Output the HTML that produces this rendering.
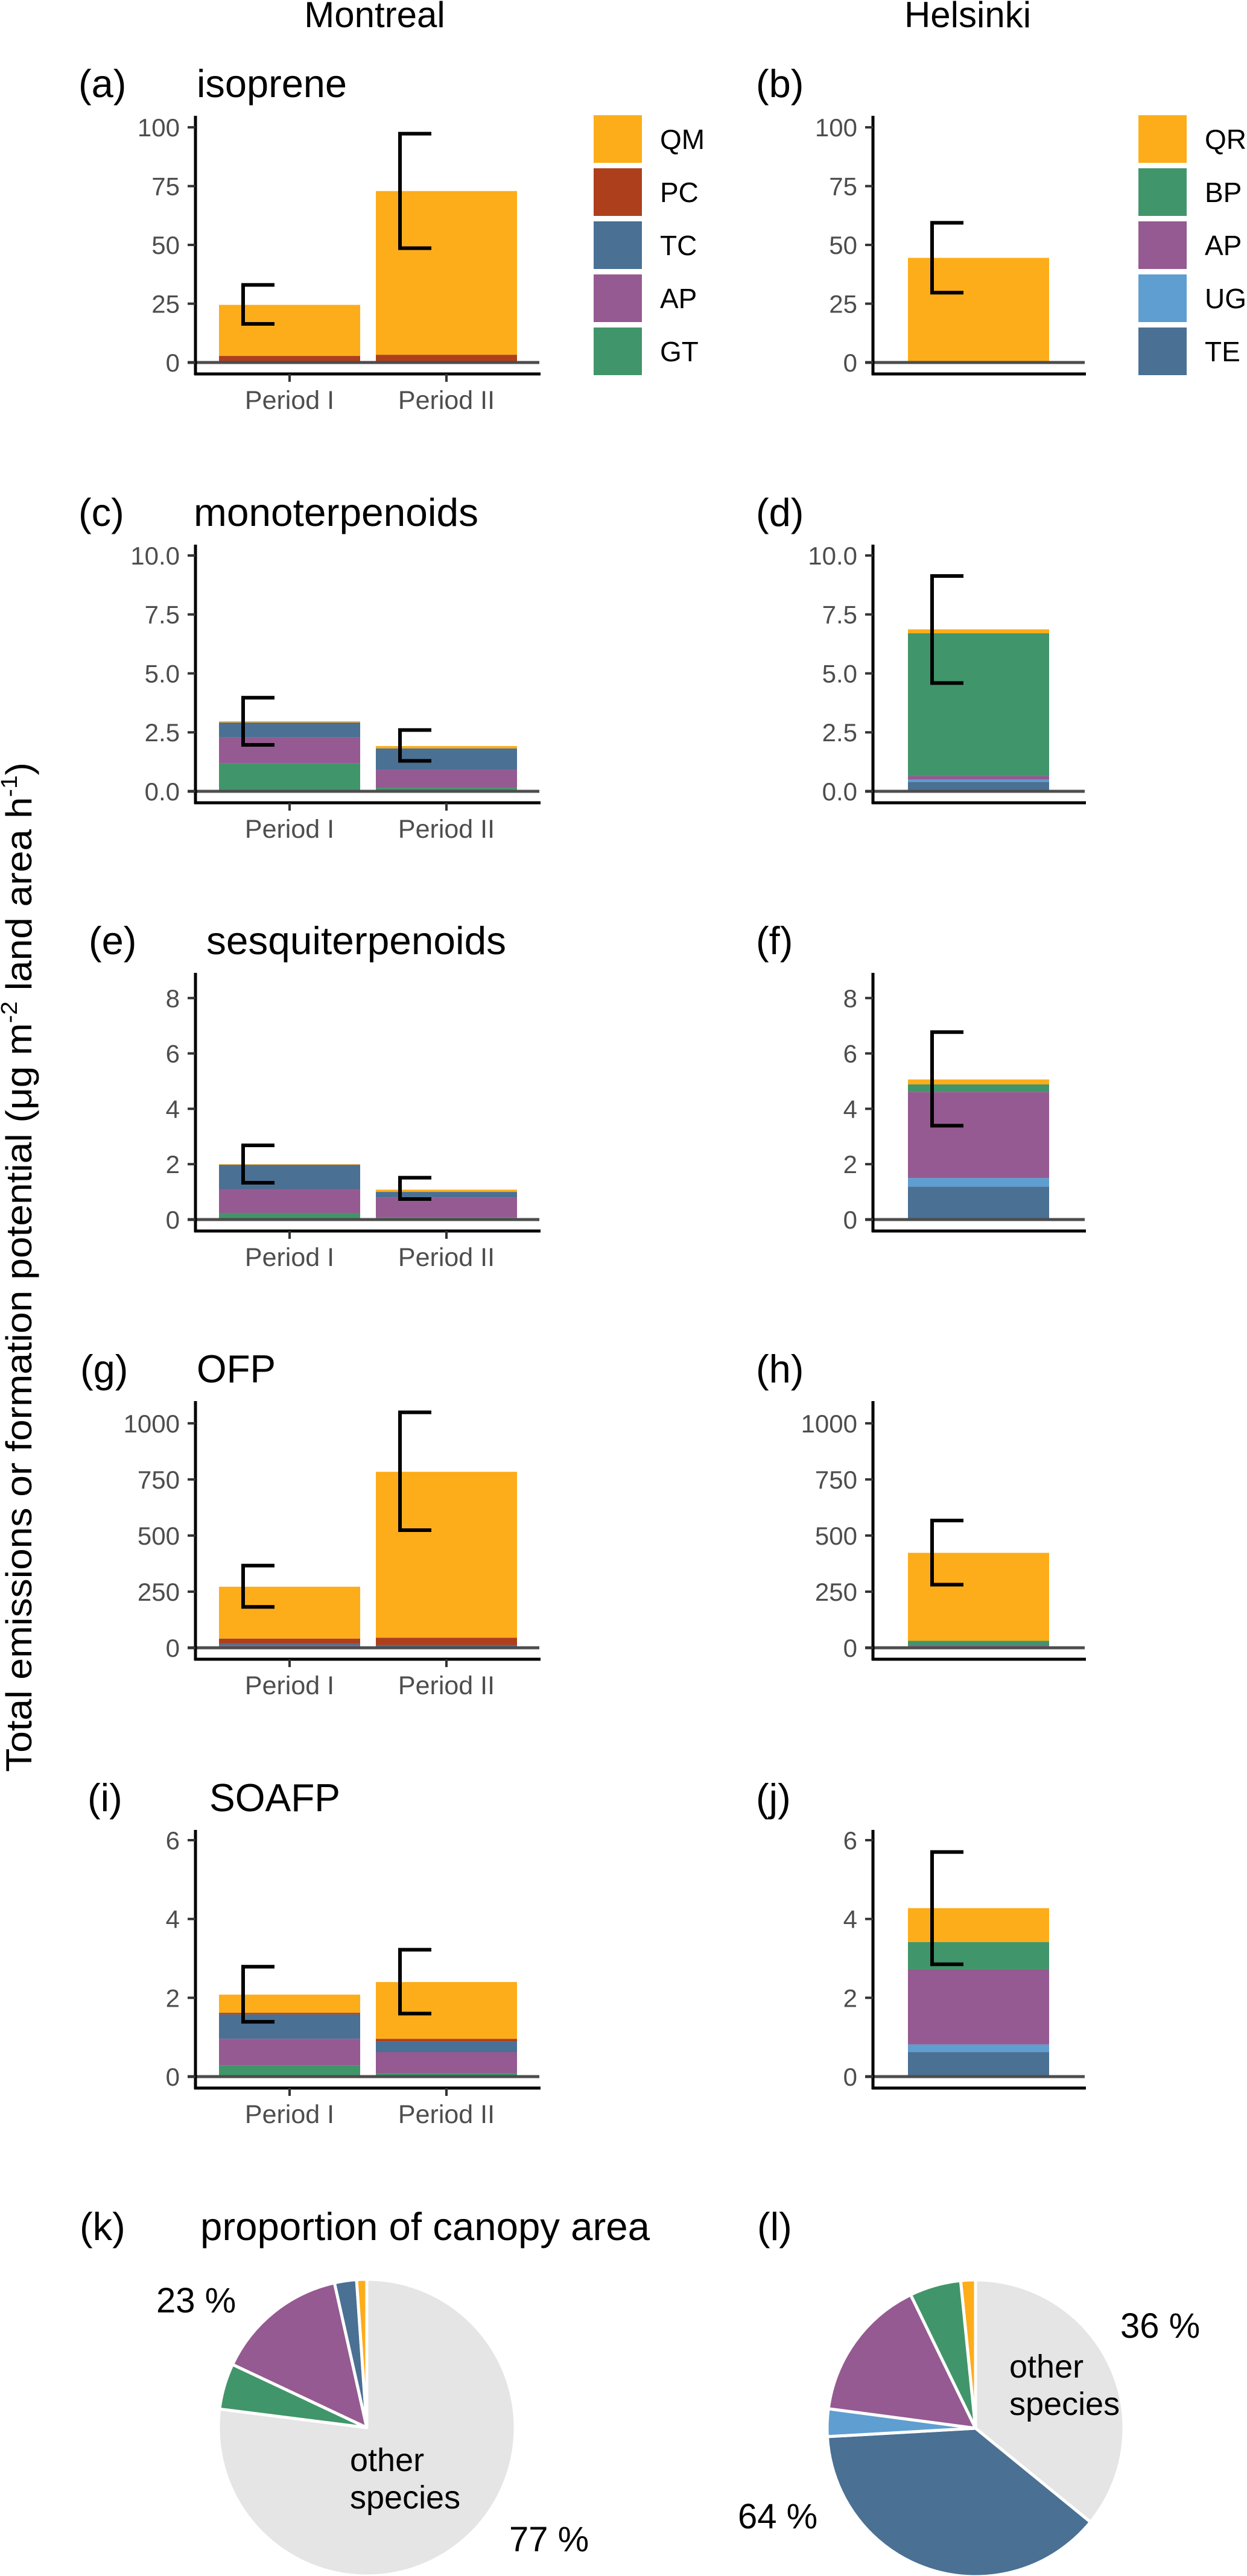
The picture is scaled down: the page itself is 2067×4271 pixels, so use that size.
<!DOCTYPE html>
<html><head><meta charset="utf-8"><style>
html,body{margin:0;padding:0;background:#fff;}
svg{display:block;font-family:"Liberation Sans",Arial,sans-serif;}
</style></head><body>
<svg id="fig" xmlns="http://www.w3.org/2000/svg" width="2067" height="4271" viewBox="0 0 2067 4271">
<text x="621" y="45" font-size="60" text-anchor="middle">Montreal</text>
<text x="1604" y="45" font-size="60" text-anchor="middle">Helsinki</text>
<text transform="translate(52,2101) rotate(-90)" font-size="60" text-anchor="middle" textLength="1674" lengthAdjust="spacingAndGlyphs">Total emissions or formation potential (μg m<tspan font-size="38" dy="-24">-2</tspan><tspan dy="24"> land area h</tspan><tspan font-size="38" dy="-24">-1</tspan><tspan dy="24">)</tspan></text>
<g id="charts"></g>
</svg>
<script>
// ---- data ----
const periods = ["Period I", "Period II"];
const mtlSpecies = ["GT", "AP", "TC", "PC", "QM"]; // stack order bottom->top
const helSpecies = ["TE", "UG", "AP", "BP", "QR"];
const mtlColors = ["#41956a", "#955a91", "#4a7094", "#ae3f1c", "#fdad1a"];
const helColors = ["#4a7094", "#5f9ed1", "#955a91", "#41956a", "#fdad1a"];

const isopreneMtl = [[0, 0, 0, 2.8, 21.7], [0, 0, 0, 3.3, 69.6]];
const isopreneMtlErr = [[16.4, 33], [48.6, 97.3]];
const isopreneHel = [[0, 0, 0, 0, 44.5]];
const isopreneHelErr = [[29.7, 59.4]];

const monoMtl = [[1.18, 1.10, 0.64, 0, 0.05], [0.15, 0.76, 0.91, 0, 0.10]];
const monoMtlErr = [[1.97, 3.97], [1.29, 2.6]];
const monoHel = [[0.40, 0.10, 0.15, 6.05, 0.17]];
const monoHelErr = [[4.59, 9.13]];

const sesqMtl = [[0.24, 0.86, 0.88, 0, 0.02], [0.08, 0.71, 0.21, 0, 0.08]];
const sesqMtlErr = [[1.33, 2.68], [0.74, 1.51]];
const sesqHel = [[1.19, 0.31, 3.11, 0.27, 0.18]];
const sesqHelErr = [[3.39, 6.77]];

const ofpMtl = [[3, 6, 8, 24, 231], [2, 4, 6, 33, 739]];
const ofpMtlErr = [[182, 366], [524, 1049]];
const ofpHel = [[5, 2, 5, 19, 392]];
const ofpHelErr = [[281, 567]];

const soaMtl = [[0.28, 0.68, 0.62, 0.04, 0.46], [0.09, 0.53, 0.27, 0.07, 1.44]];
const soaMtlErr = [[1.39, 2.79], [1.60, 3.22]];
const soaHel = [[0.625, 0.19, 1.91, 0.69, 0.86]];
const soaHelErr = [[2.85, 5.70]];

const ticksA = ["0", "25", "50", "75", "100"];
const ticksC = ["0.0", "2.5", "5.0", "7.5", "10.0"];
const ticksE = ["0", "2", "4", "6", "8"];
const ticksG = ["0", "250", "500", "750", "1000"];
const ticksI = ["0", "2", "4", "6"];

const pieMtlValues = [0.77, 0.05, 0.145, 0.024, 0.011];
const pieMtlColors = ["#e5e5e5", "#41956a", "#955a91", "#4a7094", "#fdad1a"];
const pieHelValues = [0.359, 0.382, 0.03, 0.157, 0.056, 0.016];
const pieHelColors = ["#e5e5e5", "#4a7094", "#5f9ed1", "#955a91", "#41956a", "#fdad1a"];

// ---- drawing ----
const NS = "http://www.w3.org/2000/svg";
const root = document.getElementById("charts");
function mk(tag, attrs, parent) {
  const e = document.createElementNS(NS, tag);
  for (const k in attrs) e.setAttribute(k, attrs[k]);
  (parent || root).appendChild(e);
  return e;
}

function panel(opt) {
  const g = mk("g", {});
  
  
  const zero = opt.zero, ax = opt.axisX, right = opt.right;
  const ppu = 409 / opt.U;
  const yS = v => zero - v * ppu;
  // label + title
  const lab = mk("text", {x: opt.labX, y: zero - 440, "font-size": 65}, g);
  lab.textContent = opt.letter;
  
  
  if (opt.title) {
    const t = mk("text", {x: opt.titleX, y: zero - 440, "font-size": 65, textLength: opt.titleW, lengthAdjust: "spacingAndGlyphs"}, g);
    t.textContent = opt.title;
    
    
  }
  // bars
  const centers = opt.centers;
  opt.data.forEach((stack, i) => {
    let base = 0;
    stack.forEach((v, j) => {
      if (v > 0) {
        const r = mk("rect", {x: centers[i] - 117, y: yS(base + v), width: 234, height: v * ppu, fill: opt.colors[j]}, g);
        
        
      }
      base += v;
    });
  });
  // zero line
  const zl = mk("line", {x1: ax - 13, x2: right, y1: zero, y2: zero, stroke: "#4d4d4d", "stroke-width": 5}, g);
  
  
  // error bars
  opt.err.forEach((e, i) => {
    const x = centers[i] - 77;
    const p = mk("path", {d: `M${x + 52},${yS(e[1])} H${x} V${yS(e[0])} H${x + 52}`, fill: "none", stroke: "#000", "stroke-width": 6}, g);
    
    
  });
  // axes
  const ya = mk("line", {x1: ax, x2: ax, y1: zero - 409, y2: zero + 21, stroke: "#000", "stroke-width": 5}, g);
  
  
  const xa = mk("line", {x1: ax - 2, x2: right + 2, y1: zero + 19, y2: zero + 19, stroke: "#000", "stroke-width": 5}, g);
  
  
  opt.ticks.forEach(tk => {
    const v = parseFloat(tk);
    const y = yS(v);
    mk("line", {x1: ax - 13, x2: ax, y1: y, y2: y, stroke: "#333", "stroke-width": 4}, g);
    const t = mk("text", {x: ax - 26, y: y + 15, "font-size": 42, fill: "#4d4d4d", "text-anchor": "end"}, g);
    t.textContent = tk;
    
    
  });
  if (opt.showPeriods) {
    centers.forEach((c, i) => {
      mk("line", {x1: c, x2: c, y1: zero + 19, y2: zero + 32, stroke: "#333", "stroke-width": 4}, g);
      const t = mk("text", {x: c, y: zero + 77, "font-size": 43, fill: "#4d4d4d", "text-anchor": "middle"}, g);
      t.textContent = periods[i];
      
      
    });
  }
}

const L = {axisX: 324, right: 894, centers: [480, 740], colors: mtlColors, showPeriods: true};
const R = {axisX: 1447, right: 1798, centers: [1622], colors: helColors, showPeriods: false};
const rows = [
  {zero: 601, U: 104.9, ticks: ticksA, l: ["(a)", "isoprene", 249, 130, 326, isopreneMtl, isopreneMtlErr], r: ["(b)", isopreneHel, isopreneHelErr]},
  {zero: 1312, U: 10.46, ticks: ticksC, l: ["(c)", "monoterpenoids", 472, 130, 321, monoMtl, monoMtlErr], r: ["(d)", monoHel, monoHelErr]},
  {zero: 2022, U: 8.91, ticks: ticksE, l: ["(e)", "sesquiterpenoids", 497, 147, 342, sesqMtl, sesqMtlErr], r: ["(f)", sesqHel, sesqHelErr]},
  {zero: 2732, U: 1099, ticks: ticksG, l: ["(g)", "OFP", 131, 133, 326, ofpMtl, ofpMtlErr], r: ["(h)", ofpHel, ofpHelErr]},
  {zero: 3443, U: 6.26, ticks: ticksI, l: ["(i)", "SOAFP", 217, 145, 347, soaMtl, soaMtlErr], r: ["(j)", soaHel, soaHelErr]}
];
rows.forEach((row, k) => {
  panel(Object.assign({}, L, {name: "panel-montreal-" + k, zero: row.zero, U: row.U, ticks: row.ticks, letter: row.l[0], title: row.l[1], titleW: row.l[2], labX: row.l[3], titleX: row.l[4], data: row.l[5], err: row.l[6]}));
  panel(Object.assign({}, R, {name: "panel-helsinki-" + k, zero: row.zero, U: row.U, ticks: row.ticks, letter: row.r[0], labX: 1253, data: row.r[1], err: row.r[2]}));
});

// legends (top -> bottom reversed stack)
function legend(x, species, colors, name) {
  const g = mk("g", {});
  
  
  for (let i = 0; i < 5; i++) {
    const j = 4 - i;
    const y = 191 + i * 88;
    const r = mk("rect", {x: x, y: y, width: 80, height: 79, fill: colors[j]}, g);
    
    
    const t = mk("text", {x: x + 110, y: y + 56, "font-size": 46}, g);
    t.textContent = species[j];
    
    
  }
}
legend(984, mtlSpecies, mtlColors, "legend-montreal");
legend(1887, helSpecies, helColors, "legend-helsinki");

// pies
function pie(cx, cy, r, values, colors, name) {
  const g = mk("g", {});
  
  
  let a = 0;
  values.forEach((v, i) => {
    const a0 = a, a1 = a + v * 2 * Math.PI;
    a = a1;
    const x0 = cx + r * Math.sin(a0), y0 = cy - r * Math.cos(a0);
    const x1 = cx + r * Math.sin(a1), y1 = cy - r * Math.cos(a1);
    const large = (a1 - a0) > Math.PI ? 1 : 0;
    const p = mk("path", {d: `M${cx},${cy} L${x0},${y0} A${r},${r} 0 ${large} 1 ${x1},${y1} Z`, fill: colors[i], stroke: "#fff", "stroke-width": 5, "stroke-linejoin": "round"}, g);
    
    
  });
}
pie(608, 4025, 246, pieMtlValues, pieMtlColors, "pie-montreal");
pie(1617, 4026, 246, pieHelValues, pieHelColors, "pie-helsinki");

function txt(x, y, s, size, name, extra) {
  const t = mk("text", Object.assign({x: x, y: y, "font-size": size}, extra || {}));
  t.textContent = s;
  
  
}
txt(132, 3714, "(k)", 65, "panel-label");
txt(332, 3714, "proportion of canopy area", 65, "pie-title", {textLength: 745, lengthAdjust: "spacingAndGlyphs"});
txt(1255, 3714, "(l)", 65, "panel-label");
txt(259, 3834, "23 %", 58, "pie-percent-label");
txt(844, 4230, "77 %", 58, "pie-percent-label");
txt(580, 4097, "other", 54, "pie-slice-label");
txt(580, 4159, "species", 54, "pie-slice-label");
txt(1857, 3876, "36 %", 58, "pie-percent-label");
txt(1223, 4192, "64 %", 58, "pie-percent-label");
txt(1673, 3942, "other", 54, "pie-slice-label");
txt(1673, 4004, "species", 54, "pie-slice-label");
</script>
</body></html>
